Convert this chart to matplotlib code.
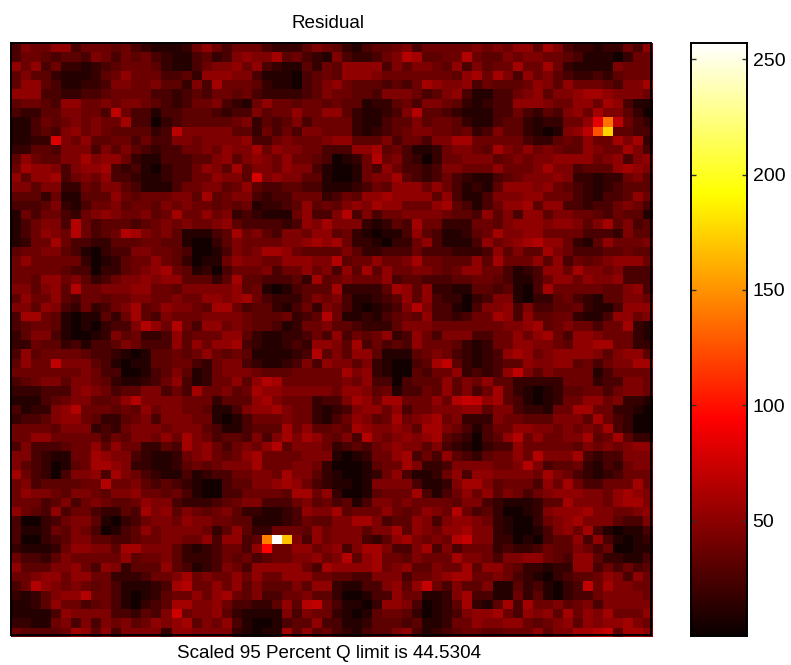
import numpy as np
import matplotlib
matplotlib.use("Agg")
import matplotlib.pyplot as plt

plt.rcParams['font.family'] = ['Liberation Sans', 'DejaVu Sans']

title_text = "Residual"
xlabel_text = "Scaled 95 Percent Q limit is 44.5304"
cbar_ticks = [50, 100, 150, 200, 250]
color_min, color_max = 0, 257

# Cell levels (0 = darkest ... 9 = brightest ordinary cell)
level_rows = [
"36557735 55453211 12575355 53222465 42134456 35555565 65774863 22122537",
"35543443 65354532 11342367 66845321 63223569 84455954 46566554 31110255",
"75735221 23455542 11356675 73211425 47777364 66547364 55855852 11116555",
"46442111 24575553 34277766 31110345 47776555 55554785 86375643 22324555",
"47743112 23665564 42638555 42110346 75444343 58766735 44457647 55543668",
"77733223 34555533 23435545 32222346 55443666 53467311 33567466 78876665",
"45543775 56566543 23556321 57554554 54412245 36654212 33777655 77587311",
"32244665 53953313 34443233 64557557 74211236 94432111 33532436 75866420",
"11354565 65583302 34444456 24346355 55211344 64554211 34421225 57668532",
"11343675 65444423 86666644 25353665 55212345 66554523 64421016 78664433",
"11229657 44553533 66566667 33565556 77444635 53668855 55532245 47558682",
"22443666 36464323 35565766 85766553 33778453 11256654 86575654 47655863",
"47544668 67752113 33446746 76575543 01259563 20255666 45656677 77567367",
"58776367 78323102 33576484 66576631 00153753 32366555 75556866 34447876",
"74778356 57332112 33557664 96766441 00156684 32353211 34566676 22122564",
"66466225 46643111 35566457 43344331 11235477 75753121 47776754 32123444",
"44425114 44754555 66484566 32335552 35477877 77473113 66677555 32133475",
"33346213 55645546 56554545 12234745 46768775 55784313 57784773 32335653",
"15355325 67655645 85575623 21115733 69363556 66654437 46377466 55435441",
"13566395 34443456 56556743 33323768 66621243 85522255 46777677 64684634",
"13576595 34598656 41113485 64366577 45210113 74311245 86677555 53332644",
"12558533 22444554 41002465 55566787 85221022 57311137 56789775 21475556",
"45566431 02336655 43001365 68875444 46422333 53332223 74644865 33344544",
"57555552 01245575 42011576 65577766 94557556 85544474 85557473 54567775",
"55555433 02245678 54120355 56355756 37484755 66545775 53123775 86656333",
"55477564 23566767 74442484 43334284 56555734 43334455 43113577 57667333",
"66467495 56667755 46666674 51013444 82222487 47221144 34103855 55544673",
"47557435 54556655 65577678 53222465 63112347 47322023 66102245 32144665",
"66476325 23568457 66548853 44213526 53101236 96331036 67363344 52113777",
"38854101 14258436 55566665 44452349 51121345 47332355 87374455 21137756",
"34554101 02336975 95377565 44312556 44322246 66555555 56678456 55355821",
"24663100 12645223 74555774 21122353 73545723 75366633 55757853 77655521",
"22544231 33465333 74757783 21123277 64835343 75554212 55776654 77885522",
"37455554 33210144 54575454 11112394 64774111 45653212 37875677 77646774",
"47557666 43101144 55325663 21123637 66462100 34854212 34476677 45356688",
"55555556 53300134 64125666 54445555 58672100 43557232 37764655 55135555",
"34566466 54211235 73125574 79855555 56573303 44474657 44222225 55233665",
"22233367 65344663 53855645 87766666 57764513 35474635 84210124 45535665",
"11134566 44579666 65552444 78655523 36875885 55759947 84310125 57756221",
"31226795 55454756 65541136 77865521 23677573 55666774 66322155 88552210",
"23346775 42245636 66551013 55565521 35764585 67856222 65544466 64853200",
"55554666 23256665 66643113 44485744 54876676 48865313 55776656 56583200",
"55775555 53546657 58653443 63686875 46396567 67843203 47957556 68458422",
"36333455 74755224 38675356 57946665 23435676 64632102 33755555 46565677",
"66321155 87663211 25675457 85555666 10125578 35374324 55759666 83233666",
"64320145 88762211 24545666 85556652 00014558 62236666 55696344 52132566",
"85320366 73865321 13123355 66586642 10012573 11257377 66665865 32123555",
"56344445 59556434 32100344 66787532 11016666 31126886 45553758 53355585",
"57665466 54667554 53100335 55548857 20014555 83135757 46535677 76657876",
"55534635 65445766 32223456 63335645 34136656 55554663 21112448 66657886",
"75437355 32243867 46545642 21123766 84555754 57659534 20012677 78665567",
"30023566 41023566 57665544 11123544 66886344 76367765 21002567 86664336",
"31125465 30134756 66652474 22555475 66646684 76577866 21001367 58310113",
"30023466 44334556 65573773 49996375 66632478 65659666 22010344 73731012",
"21112577 66488666 42123553 79557756 73688633 68363555 23223544 65350011",
"53324655 55574556 42223545 34556675 69478554 65558665 36677543 77422113",
"74446675 37624447 43123653 77777538 77778567 44655847 75422122 77353534",
"55677577 55222355 68565575 75577755 44336663 55678855 65321023 44576375",
"35976565 45311123 89557574 64446477 21133674 79536446 11423102 39586655",
"21246779 55310124 55757854 63355644 20013375 51126833 11524102 33566665",
"11247553 45310234 88667533 22474975 31102776 30124821 48385564 56366666",
"11113766 66332436 95667421 11163655 21014554 20123677 85376748 57685557",
"22115636 36564576 78465731 00134473 31124443 41125576 67754567 47677865",
"54444587 47366662 77666621 01184745 32134467 31234554 45557466 88954887",
]

# Cells brighter than the ordinary range: row, column, value
hot_rows = [8, 8, 9, 9, 8, 9, 53, 53, 53, 54, 10, 14, 7, 9, 34, 61, 60, 34, 35, 53, 58, 58, 63, 38, 38]
hot_cols = [58, 59, 58, 59, 60, 57, 25, 26, 27, 25, 4, 24, 10, 16, 4, 16, 30, 43, 50, 45, 41, 57, 59, 45, 46]
hot_vals = [84, 137, 125, 175, 68, 68, 143, 257, 168, 95, 80, 78, 70, 68, 70, 75, 70, 70, 70, 72, 72, 70, 72, 72, 70]

levels = np.array([[int(ch) for ch in row.replace(" ", "")] for row in level_rows], dtype=float)
residual = 4 + 6.8 * levels
residual[hot_rows, hot_cols] = hot_vals

W, H = 791, 665
fig = plt.figure(figsize=(W / 100, H / 100), dpi=100)

# main panel
ax = fig.add_axes([11 / W, 1 - 635 / H, 640 / W, 592 / H])
nrows, ncols = residual.shape
ax.pcolormesh(np.arange(ncols + 1), np.arange(nrows + 1), residual, cmap="hot",
              vmin=color_min, vmax=color_max, clip_on=False, zorder=1, rasterized=False,
              edgecolors="none", linewidth=0)
ax.set_xlim(0, ncols * 640 / 642)
ax.set_ylim(nrows * 592 / 594, 0)
ax.set_xticks([])
ax.set_yticks([])
for s in ax.spines.values():
    s.set_linewidth(1.4)
    s.set_color("black")
    s.set_zorder(5)

fig.text(328 / W, 1 - 24 / H, title_text, ha="center", va="center", fontsize=13.6)
fig.text(329 / W, 1 - 654 / H, xlabel_text, ha="center", va="center", fontsize=13.6)

# colour bar
cax = fig.add_axes([691 / W, 1 - 636 / H, 56 / W, 593 / H])
gradient = np.linspace(color_min, color_max, 256).reshape(-1, 1)
cax.imshow(gradient, aspect="auto", origin="lower", cmap="hot", vmin=color_min, vmax=color_max,
           extent=[0, 1, color_min, color_max], interpolation="bilinear")
cax.set_xticks([])
cax.yaxis.tick_right()
cax.set_yticks(cbar_ticks)
cax.tick_params(axis="y", which="both", direction="in", length=3.6, width=1.0,
                left=True, right=True, labelright=True, labelleft=False,
                labelsize=14, pad=4, color="#303030")
for s in cax.spines.values():
    s.set_linewidth(1.4)
    s.set_color("black")

fig.savefig("out.png", dpi=100, facecolor="white")
